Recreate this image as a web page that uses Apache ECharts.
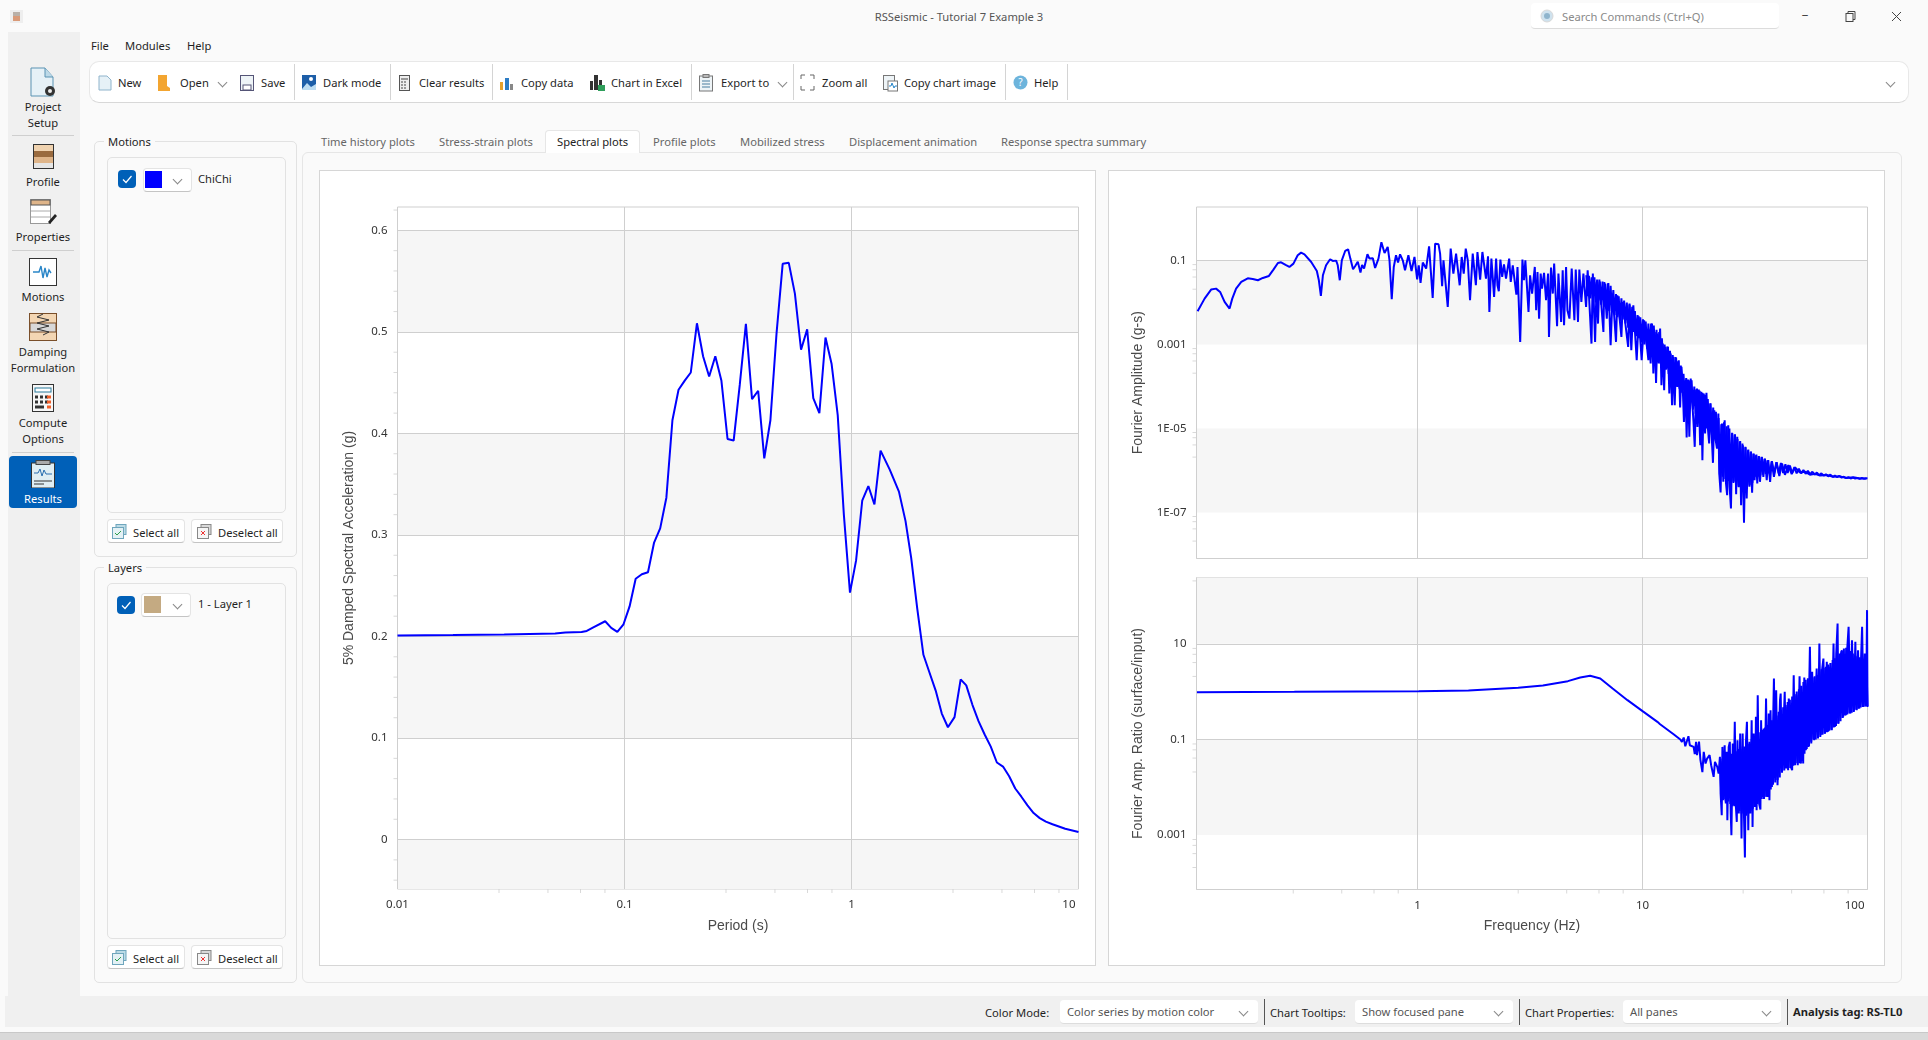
<!DOCTYPE html>
<html>
<head>
<meta charset="utf-8">
<title>RSSeismic - Tutorial 7 Example 3</title>
<script src="https://cdn.jsdelivr.net/npm/echarts@6/dist/echarts.min.js"></script>
<style>
  html, body { margin: 0; width: 1928px; height: 1040px; overflow: hidden; background: #fafafa; }
  body { font-family: "Noto Sans", sans-serif; font-size: 11.2px; color: #1f1f1f; }
  #chart { position: absolute; left: 0; top: 0; width: 1928px; height: 1040px; z-index: 5; }
  .t { position: absolute; white-space: nowrap; transform: translateY(calc(-50% - 1px)); }
  .c { text-align: center; transform: translate(-50%, calc(-50% - 1px)); }
  .b { position: absolute; box-sizing: border-box; }
  .btn { background: #fff; border: 1px solid #e4e4e4; border-bottom-color: #c4c4c4; border-radius: 4px; }
  .grp { border: 1px solid #e2e2e2; border-radius: 5px; }
  .chev { position: absolute; width: 6px; height: 6px; border-right: 1px solid #888; border-bottom: 1px solid #888; transform: rotate(45deg); }
</style>
</head>
<body>
<div id="chrome"></div>
<div id="chart"></div>
<script>
// ---- response spectrum, left pane
const saPeriods = [0.01,0.01758,0.0295,0.0495,0.0549,0.0647,0.0682,0.0729,0.0822,0.0874,0.093,0.099,0.1053,0.112,0.1192,0.1269,0.135,0.1436,0.1529,0.1626,0.173,0.1842,0.1959,0.2085,0.2219,0.236,0.2512,0.2673,0.2844,0.3026,0.322,0.3426,0.3646,0.388,0.4128,0.4393,0.4675,0.4975,0.5293,0.5632,0.5994,0.6378,0.6786,0.7219,0.7682,0.8174,0.8696,0.9254,0.9846,1.0477,1.1149,1.1864,1.262,1.343,1.474,1.618,1.73,1.832,1.949,2.074,2.207,2.349,2.499,2.659,2.844,3.026,3.203,3.409,3.627,3.86,4.107,4.37,4.65,4.949,5.264,5.602,5.96,6.342,6.749,7.181,7.68,8.74,10];
const saValues = [0.201,0.2015,0.202,0.203,0.204,0.2045,0.2055,0.209,0.215,0.2085,0.2045,0.212,0.2296,0.2568,0.2613,0.2633,0.2925,0.3065,0.3367,0.413,0.443,0.452,0.46,0.5085,0.476,0.456,0.476,0.4518,0.3945,0.393,0.448,0.508,0.4337,0.442,0.3754,0.413,0.4985,0.567,0.568,0.5377,0.4824,0.5025,0.4347,0.42,0.4945,0.4683,0.418,0.32,0.2432,0.2749,0.3337,0.3482,0.33,0.383,0.3643,0.3427,0.3136,0.2774,0.2271,0.182,0.1643,0.1467,0.1241,0.1106,0.1206,0.1578,0.1518,0.1327,0.1166,0.1035,0.0915,0.0759,0.0719,0.0623,0.0503,0.0422,0.0337,0.0261,0.0211,0.0176,0.0151,0.0106,0.0075];

// ---- Fourier amplitude, top right pane (log10 of Hz and of g-s)
const ampFreqExp = [-0.978,-0.947,-0.918,-0.896,-0.878,-0.858,-0.836,-0.824,-0.807,-0.784,-0.755,-0.733,-0.71,-0.688,-0.661,-0.641,-0.621,-0.607,-0.587,-0.57,-0.552,-0.533,-0.518,-0.503,-0.473,-0.448,-0.439,-0.43,-0.421,-0.407,-0.389,-0.377,-0.362,-0.355,-0.346,-0.337,-0.322,-0.309,-0.299,-0.287,-0.278,-0.266,-0.254,-0.247,-0.238,-0.223,-0.214,-0.199,-0.189,-0.174,-0.161,-0.147,-0.133,-0.125,-0.115,-0.106,-0.096,-0.087,-0.078,-0.066,-0.056,-0.041,-0.027,-0.014,-0.002,0.005,0.013,0.023,0.038,
0.051,0.059,0.067,0.078,0.093,0.1,0.109,0.115,0.122,0.134,0.147,0.159,0.171,0.177,0.187,0.196,0.205,0.214,0.223,0.233,0.245,0.259,0.266,0.278,0.288,0.296,0.304,0.313,0.319,0.328,0.34,0.349,0.355,0.361,0.368,0.376,0.384,0.393,0.407,0.414,0.423,0.439,0.444,0.456,0.466,0.473,0.479,0.493,0.5,0.509,0.521,0.527,0.533,0.54,0.547,0.553,0.562,0.571,0.58,0.584,0.593,0.601,0.607,0.62,0.626,0.638,0.645,0.651,0.66,0.666,0.675,0.685,0.697,0.703,0.713,0.719,0.728,0.737,0.749,0.756,0.773,0.779,0.789,0.796,0.802,0.808,0.826,0.83,0.841,0.848,0.858,0.867,0.882,0.888,0.906,0.912,0.936,0.942,0.95,0.959,0.974,0.983,0.996,1.007,1.026,
1.03,1.036,1.042,1.048,1.054,1.06,1.066,1.072,1.078,1.084,1.09,1.096,1.101,1.107,1.113,1.119,1.125,1.131,1.137,1.143,1.149,1.155,1.161,1.167,1.173,1.178,1.184,1.19,1.196,1.202,1.208,1.214,1.22,1.226,1.232,1.238,1.244,1.25,1.256,1.261,1.266,1.272,1.278,1.284,1.29,1.296,1.301,1.307,1.313,1.319,1.325,1.331,1.337,1.341,1.347,1.353,1.359,1.365,1.371,1.376,1.381,1.387,1.393,1.399,1.405,1.411,1.416,1.421,1.427,1.433,1.438,1.444,1.451,1.457,1.463,1.469,1.475,1.481,1.487,1.493,1.498,1.504,1.51,1.516,1.522,1.53,1.537,1.544,1.552,1.559,1.567,1.574,1.584,1.596,1.608,1.62,1.633,1.648,1.663,1.678,1.7,1.722,1.744,1.767,1.789,1.818,1.848,1.878,1.907,1.937,1.967,2];
const ampExp = [-2.207,-1.906,-1.691,-1.668,-1.747,-1.985,-2.144,-1.906,-1.668,-1.509,-1.421,-1.437,-1.469,-1.414,-1.366,-1.215,-1.056,-1.041,-1.104,-1.152,-1.072,-0.874,-0.81,-0.85,-1.033,-1.247,-1.469,-1.842,-1.35,-1.112,-0.969,-1.009,-1.001,-1.112,-1.469,-0.993,-0.771,-0.731,-0.953,-1.207,-1.136,-1.025,-1.287,-1.104,-1.191,-0.85,-0.953,-0.945,-1.175,-0.953,-0.564,-0.818,-0.675,-0.993,-1.921,-1.152,-0.874,-1.048,-0.85,-0.993,-1.231,-0.874,-1.247,-0.914,-1.445,-1.112,-1.533,-1.048,-1.191,
-0.66,-0.675,-1.89,-0.596,-0.612,-0.834,-1.612,-0.993,-0.953,-2.104,-0.715,-1.31,-0.834,-0.834,-1.588,-0.914,-1.31,-0.715,-0.993,-1.945,-0.834,-1.588,-0.795,-1.453,-0.795,-0.795,-1.429,-0.898,-2.223,-0.953,-1.866,-0.953,-1.588,-1.731,-0.977,-1.39,-1.088,-1.429,-0.953,-1.509,-1.112,-1.81,-1.152,-2.937,-0.977,-1.469,-0.993,-2.223,-1.35,-1.786,-1.152,-2.183,-1.271,-2.382,-1.31,-1.668,-1.294,-1.945,-1.31,-2.818,-1.167,-1.786,-1.072,-2.564,-1.31,-2.461,-1.231,-2.54,-1.152,-2.183,-2.382,-1.191,-2.421,-1.215,-2.461,-1.215,-1.985,-1.31,-2.104,-1.231,-2.977,-1.31,-2.937,-1.509,-2.501,-1.453,-2.699,-1.509,-2.382,-1.533,-3.017,-1.786,-2.937,-1.826,-2.818,-1.985,-3.056,-2.025,-3.136,-2.064,-3.374,-2.326,-3.374,-2.421,-3.374,
-2.643,-3.453,-2.501,-3.691,-2.699,-3.913,-2.739,-3.453,-2.62,-3.969,-2.977,-4.088,-3.056,-3.572,-3.056,-4.167,-3.215,-4.445,-3.294,-4.445,-3.31,-4.008,-3.374,-4.501,-3.532,-3.929,-4.842,-3.85,-5.215,-3.834,-5.199,-3.81,-3.786,-4.802,-5.437,-4.072,-4.961,-4.072,-5.397,-4.127,-5.754,-4.167,-5.12,-4.151,-4.961,-5.358,-4.405,-5.12,-5.818,-4.564,-5.278,-5.477,-4.643,-6.072,-6.524,-4.882,-6.27,-4.802,-6.31,-6.588,-4.921,-6.389,-6.905,-5.12,-6.27,-5.135,-6.564,-5.199,-6.389,-5.318,-6.826,-5.358,-7.247,-5.437,-6.667,-5.516,-6.389,-5.556,-6.532,-5.596,-6.231,-5.636,-6.31,-5.659,-6.27,-5.675,-6.151,-5.715,-6.231,-5.755,-6.27,-5.786,-6.151,-5.802,-6.135,-5.834,-6.104,-5.874,-6.088,-5.929,-6.05,-6.03,-6.1,-6.08,-6.12,-6.11,-6.15,-6.14,-6.18,-6.16,-6.19,-6.185];

// the solid core of the same spectrum where its lines merge
const ampCoreFreqExp = [0.75,0.756,0.762,0.768,0.774,0.78,0.786,0.792,0.798,0.804,0.81,0.816,0.822,0.828,0.834,0.84,0.846,0.852,0.858,0.864,0.87,0.876,0.882,0.888,0.894,0.9,0.906,0.912,0.918,0.924,0.93,0.936,0.942,0.948,0.954,0.96,0.966,0.972,0.978,0.984,0.99,0.996,1.002,1.008,1.014,1.02,1.026,1.032,1.038,1.044,1.05,1.056,1.062,1.068,1.074,1.08,1.086,1.092,1.098,1.104,1.11,1.116,1.122,1.128,1.134,1.14,1.146,1.152,1.158,1.164,1.17,1.176,1.182,1.188,1.194,1.2,1.206,1.212,1.218,1.224,1.23,1.236,1.242,1.248,1.254,1.26,1.266,1.272,1.278,1.284,1.29,1.296,1.302,1.308,1.314,1.32,1.326,1.332,1.338,1.344,1.35,1.356,1.362,1.368,1.374,1.38,1.386,1.392,1.398,1.404,1.41,1.416,1.422,1.428,1.434,1.44,1.446,1.452,1.458,1.464,1.47,1.476,1.482,1.488,1.494,1.5,1.506,1.512,1.518,1.524,1.53,1.536,1.542,1.548,1.555,1.565,1.575,1.585,1.595,1.605,1.615,1.625,1.635,1.645,1.655,1.665,1.675,1.685,1.695,1.705,1.715,1.725,1.735,1.745,1.755,1.765,1.775,1.785,1.795,1.805,1.815,1.825,1.835,1.845,1.855,1.865,1.875,1.885,1.895,1.905,1.915,1.925,1.935,1.945,1.955,1.965,1.975,1.985,1.995];
const ampCoreExp = [-1.35,-1.85,-1.36,-1.9,-1.4,-1.95,-1.4,-2,-1.45,-1.95,-1.5,-2.05,-1.5,-2.1,-1.55,-2.15,-1.55,-2.2,-1.6,-2.2,-1.7,-2.3,-1.8,-2.35,-1.85,-2.45,-1.9,-2.4,-1.95,-2.5,-2,-2.6,-2.05,-2.65,-2.1,-2.7,-2.2,-2.8,-2.3,-2.85,-2.35,-2.95,-2.4,-3,-2.45,-3.1,-2.5,-3.15,-2.5,-3.25,-2.55,-3.3,-2.65,-3.35,-2.7,-3.45,-2.85,-3.55,-3,-3.6,-3.05,-3.7,-3.15,-3.8,-3.25,-3.9,-3.3,-4,-3.4,-4.05,-3.5,-4.15,-3.7,-4.25,-3.8,-4.3,-3.85,-4.4,-3.85,-4.55,-4,-4.65,-4.05,-4.85,-4.1,-4.9,-4.15,-4.95,-4.2,-5,-4.3,-5.1,-4.4,-5.15,-4.5,-5.2,-4.6,-5.3,-4.75,-6.1,-4.9,-6.15,-4.85,-6.2,-4.95,-6.25,-5,-6.3,-5.1,-6.3,-5.15,-6.35,-5.25,-6.4,-5.3,-6.45,-5.4,-6.45,-5.45,-6.4,-5.5,-6.35,-5.55,-6.3,-5.6,-6.15,-5.62,-6.15,-5.66,-6.12,-5.68,-6.1,-5.72,-6.08,-5.76,-6.08,-5.78,-6.07,-5.8,-6.07,-5.82,-6.06,-5.85,-6.06,-5.88,-6.06,-5.92,-6.07,-5.96,-6.07,-5.99,-6.08,-6.01,-6.09,-6.03,-6.1,-6.05,-6.11,-6.07,-6.12,-6.09,-6.14,-6.1,-6.15,-6.12,-6.16,-6.13,-6.17,-6.15,-6.18,-6.16,-6.19,-6.17,-6.19,-6.18,-6.2,-6.18,-6.2,-6.19];

// ---- Fourier amplitude ratio, bottom right pane (log10 again)
const ratioFreqExp = [-0.981,-0.548,0.005,0.226,0.447,0.557,0.668,0.723,0.767,0.812,0.867,0.933,1,1.066,1.078,1.138,1.168,1.175,1.183,1.19,1.204,1.21,1.227,1.232,1.238,1.242,1.251,1.257,1.266,1.272,1.28,1.287,1.298,1.305,1.316,1.322,1.332,1.338,
1.344,1.347,1.352,1.355,1.359,1.365,1.37,1.374,1.377,1.383,1.388,1.392,1.395,1.401,1.404,1.41,1.415,1.419,1.422,1.428,1.434,1.44,1.445,1.451,1.455,1.46,1.464,1.47,1.475,1.479,1.485,1.489,1.494,1.5,1.504,1.507,1.512,1.518,1.524,1.527,1.533,1.539,1.542,1.549,1.555,1.561,1.564,1.569,1.575,1.579,1.584,1.59,1.594,1.6,1.606,1.611,1.614,1.62,1.624,1.632,1.638,1.644,1.647,1.65,1.659,1.665,1.672,1.678,1.684,1.69,1.698,1.704,1.71,1.714,1.719,1.726,1.734,1.736,1.744,1.75,1.754,1.763,1.774,1.78,1.786,1.792,1.798,1.804,1.811,1.819,1.825,1.834,1.841,1.849,1.855,1.861,1.867,1.871,1.879,1.886,1.892,1.898,1.904,1.91,1.916,1.924,1.931,1.939,1.946,1.952,1.958,1.964,1.976,1.982,1.988,1.994,1.998,2];
const ratioExp = [-0.0115,-0.005,0.0095,0.023,0.079,0.128,0.219,0.296,0.331,0.275,0.065,-0.179,-0.409,-0.633,-0.682,-0.891,-1.003,-1.052,-0.961,-1.143,-0.933,-1.122,-1.157,-1.31,-1.052,-1.331,-1.045,-1.422,-1.687,-1.261,-1.506,-1.401,-1.331,-1.541,-1.785,-1.471,-1.575,-1.715,
-1.366,-2.134,-2.588,-1.157,-2.273,-1.122,-2.343,-1.261,-2.692,-1.157,-1.052,-2.553,-3.006,-1.087,-2.378,-0.633,-2.413,-2.727,-1.017,-2.553,-0.877,-3.076,-0.877,-2.623,-3.474,-1.017,-0.633,-2.902,-1.087,-2.553,-0.598,-2.832,-0.877,-2.413,-0.528,-2.483,-0.075,-2.343,-2.469,-0.598,-2.204,-0.773,-2.204,-0.144,-2.204,-0.458,-2.273,-0.389,-1.994,-1.959,0.275,-1.785,0.03,-1.959,-1.959,-0.179,-0.04,-1.68,-1.645,-0.005,-1.61,-0.319,-1.645,-0.144,-1.575,-1.645,0.344,-1.54,-0.075,-1.54,0.323,-1.506,-0.109,-1.506,0.295,-1.226,0.17,-1.157,0.938,-1.087,0.414,-1.017,0.484,-0.982,1.008,-0.912,0.449,0.693,-0.877,0.624,-0.842,0.519,-0.808,1.008,-0.738,0.798,1.426,-0.668,0.728,0.868,-0.528,0.728,-0.493,0.903,1.357,-0.458,1.077,-0.424,1.042,-0.389,0.868,-0.354,1.357,-0.319,0.798,-0.305,1.706,-0.32];
const ratioCoreFreqExp = [1.345,1.35,1.355,1.36,1.365,1.37,1.375,1.38,1.385,1.39,1.395,1.4,1.405,1.41,1.415,1.42,1.425,1.43,1.435,1.44,1.445,1.45,1.455,1.46,1.465,1.47,1.475,1.48,1.485,1.49,1.495,1.5,1.505,1.51,1.515,1.52,1.525,1.53,1.535,1.54,1.545,1.55,1.555,1.56,1.565,1.57,1.575,1.58,1.585,1.59,1.595,1.6,1.605,1.61,1.615,1.62,1.625,1.63,1.635,1.64,1.645,1.65,1.655,1.66,1.665,1.67,1.675,1.68,1.685,1.69,1.695,1.7,1.705,1.71,1.715,1.72,1.725,1.73,1.735,1.74,1.745,1.75,1.755,1.76,1.765,1.77,1.775,1.78,1.785,1.79,1.795,1.8,1.805,1.81,1.815,1.82,1.825,1.83,1.835,1.84,1.845,1.85,1.855,1.86,1.865,1.87,1.875,1.88,1.885,1.89,1.895,1.9,1.905,1.91,1.915,1.92,1.925,1.93,1.935,1.94,1.945,1.95,1.955,1.96,1.965,1.97,1.975,1.98,1.985,1.99,1.995,2];
const ratioCoreExp = [-1.45,-2.2,-1.4,-2.25,-1.35,-2.3,-1.35,-2.3,-1.3,-2.35,-1.3,-2.4,-1.25,-2.4,-1.25,-2.45,-1.2,-2.5,-1.2,-2.55,-1.15,-2.55,-1.15,-2.6,-1.1,-2.55,-1.05,-2.5,-1,-2.45,-0.95,-2.4,-0.9,-2.35,-0.85,-2.3,-0.85,-2.25,-0.8,-2.25,-0.75,-2.2,-0.7,-2.1,-0.65,-2.05,-0.6,-1.95,-0.6,-1.9,-0.5,-1.85,-0.42,-1.8,-0.38,-1.7,-0.33,-1.65,-0.28,-1.6,-0.22,-1.6,-0.17,-1.55,-0.1,-1.55,-0.05,-1.5,0,-1.5,0.05,-1.5,0.12,-1.45,0.2,-1.3,0.25,-1.2,0.28,-1.15,0.28,-1.05,0.3,-1,0.32,-1,0.35,-0.95,0.42,-0.95,0.47,-0.9,0.5,-0.88,0.52,-0.85,0.57,-0.82,0.6,-0.8,0.66,-0.75,0.7,-0.72,0.75,-0.67,0.8,-0.62,0.85,-0.55,0.9,-0.5,0.92,-0.48,0.88,-0.46,0.85,-0.44,0.8,-0.4,0.76,-0.38,0.74,-0.36,0.72,-0.33,0.7,-0.32,0.68,-0.31,0.66,-0.3];

// ---- tick labels and minor ticks
const saTicks = [0,0.1,0.2,0.3,0.4,0.5,0.6];
const saTickLabels = ['0','0.1','0.2','0.3','0.4','0.5','0.6'];
const saMinor = [-0.04,-0.02,0.02,0.04,0.06,0.08,0.12,0.14,0.16,0.18,0.22,0.24,0.26,0.28,0.32,0.34,0.36,0.38,0.42,0.44,0.46,0.48,0.52,0.54,0.56,0.58,0.62];
const periodTicks = [0.01,0.1,1,10];
const periodTickLabels = ['0.01','0.1','1','10'];
const freqTicks = [1,10,100];
const freqTickLabels = ['1','10','100'];
const ampTicks = [0.1,0.001,1e-5,1e-7];
const ampTickLabels = ['0.1','0.001','1E-05','1E-07'];
const ratioTicks = [10,0.1,0.001];
const ratioTickLabels = ['10','0.1','0.001'];
const periodMinor = [0.028,0.046,0.064,0.082,0.28,0.46,0.64,0.82,2.8,4.6,6.4,8.2];
const freqMinor = [0.28,0.46,0.64,0.82,2.8,4.6,6.4,8.2,28,46,64,82];
const ampMinor = [0.0208,0.0406,0.0604,0.0802,2.08e-4,4.06e-4,6.04e-4,8.02e-4,2.08e-6,4.06e-6,6.04e-6,8.02e-6,2.08e-8,4.06e-8,6.04e-8,8.02e-8];
const ratioMinor = [208,2.08,4.06,6.04,8.02,0.0208,0.0406,0.0604,0.0802,2.08e-4,4.06e-4,6.04e-4,8.02e-4];

// axis limits
const periodRange = [0.01, 10];
const freqRange = [0.104, 100];
const saRange = [-0.0487, 0.623];
const ampRange = [8e-9, 1.89];
const ratioRange = [7.2e-5, 245];

const BLUE = '#0000ff', GRID = '#cfcfcf', BAND = '#f6f6f6', LABEL = '#333', TITLE = '#4a4a4a';

// ---- application chrome around the charts
const chrome = document.getElementById('chrome');
function box(x, y, w, h, css) {
  const d = document.createElement('div');
  d.className = 'b';
  d.style.cssText = `left:${x}px;top:${y}px;width:${w}px;height:${h}px;${css || ''}`;
  chrome.append(d);
  return d;
}
function txt(x, y, s, css, cls) {
  const d = document.createElement('div');
  d.className = cls || 't';
  d.style.cssText = `left:${x}px;top:${y}px;${css || ''}`;
  d.textContent = s;
  chrome.append(d);
}
function chev(x, y) {
  const d = document.createElement('div');
  d.className = 'chev';
  d.style.left = x + 'px';
  d.style.top = y + 'px';
  chrome.append(d);
}
function svg(x, y, w, h, inner) {
  const d = document.createElement('div');
  d.style.cssText = `position:absolute;left:${x}px;top:${y}px;width:${w}px;height:${h}px`;
  d.innerHTML = `<svg width="${w}" height="${h}" viewBox="0 0 ${w} ${h}" xmlns="http://www.w3.org/2000/svg">${inner}</svg>`;
  chrome.append(d);
}
function check(x, y) {
  box(x, y, 18, 18, 'background:#0060b8;border-radius:4px');
  svg(x, y, 18, 18, '<path d="M5 9.5l3 3 5.5-6.5" fill="none" stroke="#fff" stroke-width="1.2"/>');
}
function selectButtons(y) {
  box(107, y, 78, 24, '').className = 'b btn';
  svg(112, y + 5, 15, 15, '<rect x="4" y="0.5" width="10" height="10" fill="#bcdbe6" stroke="#6fa6bd"/><rect x="0.5" y="3.5" width="11" height="11" fill="#e4f1f5" stroke="#6fa6bd"/><path d="M3 9l2 2 4-4" fill="none" stroke="#2a9d4a"/>');
  txt(133, y + 14, 'Select all');
  box(191, y, 92, 24, '').className = 'b btn';
  svg(197, y + 5, 15, 15, '<rect x="4" y="0.5" width="10" height="10" fill="#d8d8d8" stroke="#888"/><rect x="0.5" y="3.5" width="11" height="11" fill="#f5f5f5" stroke="#888"/><path d="M4 7l4 4m0-4l-4 4" stroke="#e33"/>');
  txt(218, y + 14, 'Deselect all');
}

// title bar
svg(10, 10, 13, 13, '<rect width="13" height="13" fill="#eee"/><rect x="3" y="2" width="7" height="4" fill="#b9b0a8"/><rect x="3" y="6" width="7" height="5" fill="#d99a78"/>');
txt(959, 17, 'RSSeismic - Tutorial 7 Example 3', 'color:#555', 't c');
box(1531, 3, 248, 26, 'background:#fff;border-radius:4px;border-bottom:1px solid #dcdcdc');
svg(1540, 9, 14, 14, '<circle cx="7" cy="7" r="6" fill="#cfe2ee" stroke="#d8d8d8"/><circle cx="7" cy="7" r="3" fill="#8fb4cc"/>');
txt(1562, 17, 'Search Commands (Ctrl+Q)', 'color:#8a8a8a');
txt(1805, 15, '–', 'color:#444;font-size:13px', 't c');
svg(1845, 10, 11, 11, '<rect x="1" y="2.5" width="7" height="8" fill="none" stroke="#444"/><path d="M3 2.5v-2h7v8h-2" fill="none" stroke="#444"/>');
svg(1891, 10, 11, 11, '<path d="M1 1l9 9m0-9l-9 9" stroke="#444"/>');

// rail
box(8, 32, 72, 964, 'background:#f0f0f0');
box(12, 135, 62, 1, 'background:#cfcfcf');
box(12, 250, 62, 1, 'background:#cfcfcf');
box(12, 452, 62, 1, 'background:#cfcfcf');
box(9, 456, 68, 52, 'background:#0060b8;border-radius:4px');
svg(29, 67, 30, 32, '<path d="M2 1h14l8 9v19H2z" fill="#e6f1f7" stroke="#5b93b3"/><path d="M16 1v9h8" fill="#bcd9e8" stroke="#5b93b3"/><circle cx="21" cy="24" r="5" fill="#333"/><circle cx="21" cy="24" r="2" fill="#eee"/>');
txt(43, 107, 'Project', '', 't c'); txt(43, 123, 'Setup', '', 't c');
svg(33, 144, 21, 25, '<rect x="0.5" y="0.5" width="20" height="24" fill="#e6e6e6" stroke="#333"/><rect x="1" y="1" width="19" height="6" fill="#f0d3b0"/><rect x="1" y="7" width="19" height="6" fill="#9a6b3f"/><rect x="1" y="13" width="19" height="6" fill="#dfb58a"/>');
txt(43, 182, 'Profile', '', 't c');
svg(30, 199, 29, 26, '<rect x="0.5" y="0.5" width="20" height="24" fill="#fff" stroke="#999"/><rect x="1" y="1" width="19" height="5" fill="#dfb58a" stroke="#555"/><path d="M1 12h19M1 18h19" stroke="#aaa"/><path d="M18 23l7-8 2 2-7 8z" fill="#222"/>');
txt(43, 237, 'Properties', '', 't c');
svg(29, 258, 28, 28, '<rect x="0.5" y="0.5" width="27" height="27" fill="#fff" stroke="#333"/><path d="M4 14h6l2-6 2 12 2-10 2 9 2-7 2 3" fill="none" stroke="#2a86c8" stroke-width="1.4"/>');
txt(43, 297, 'Motions', '', 't c');
svg(29, 313, 28, 28, '<rect x="0.5" y="0.5" width="27" height="27" fill="#f3d6b3" stroke="#7a4f2a"/><rect x="1" y="10" width="26" height="9" fill="#d8d8d8" stroke="#7a4f2a"/><path d="M14 1l-6 3 12 3-12 3 12 3-12 3 12 3-6 3" fill="none" stroke="#333"/>');
txt(43, 352, 'Damping', '', 't c'); txt(43, 368, 'Formulation', '', 't c');
svg(32, 384, 22, 28, '<rect x="0.5" y="0.5" width="21" height="27" fill="#f7f7f7" stroke="#333"/><rect x="3" y="4" width="16" height="4" fill="#fff" stroke="#287a9c"/><path d="M3 13h3m2 0h3m2 0h3M3 18h3m2 0h3m2 0h3" stroke="#333" stroke-width="3"/><path d="M15 13h4M15 18h4M15 23h4" stroke="#f2602a" stroke-width="3"/><path d="M3 23h9" stroke="#333" stroke-width="3"/>');
txt(43, 423, 'Compute', '', 't c'); txt(43, 439, 'Options', '', 't c');
svg(31, 460, 24, 28, '<rect x="0.5" y="3" width="23" height="25" fill="#e0eef3" stroke="#333"/><rect x="5" y="0.5" width="14" height="4" fill="#aaa" stroke="#444"/><path d="M3 13h4l2-4 2 7 2-6 2 4h6" fill="none" stroke="#2a6fb0"/><path d="M3 21h18M3 24h10" stroke="#333"/>');
txt(43, 499, 'Results', 'color:#fff', 't c');

// menu and toolbar
txt(91, 46, 'File'); txt(125, 46, 'Modules'); txt(187, 46, 'Help');
box(89, 61, 1820, 42, 'background:#fff;border-radius:10px;border:1px solid #e8e8e8;border-bottom-color:#d8d8d8');
[294, 390, 492, 691, 793, 1005, 1067].forEach(x => box(x, 64, 1, 36, 'background:#d4d4d4'));
svg(98, 75, 14, 16, '<path d="M1 1h8l4 4v10H1z" fill="#e6f1f7" stroke="#8fb4cc"/>');
txt(118, 83, 'New');
svg(157, 74, 14, 18, '<path d="M1 1h9v11l3 2v3H1z" fill="#f3a530"/>');
txt(180, 83, 'Open'); chev(219, 79);
svg(240, 75, 14, 16, '<rect x="0.5" y="0.5" width="13" height="15" fill="#eef4f7" stroke="#557"/><rect x="3" y="10" width="8" height="5" fill="#fff" stroke="#557"/>');
txt(261, 83, 'Save');
svg(302, 75, 14, 15, '<rect width="14" height="15" fill="#1d5ea8"/><circle cx="9" cy="4" r="2" fill="#fff"/><path d="M0 14l5-6 4 4 5-3v6H0z" fill="#bcdcf2"/>');
txt(323, 83, 'Dark mode');
svg(399, 75, 12, 16, '<rect x="0.5" y="0.5" width="10" height="15" fill="#eee" stroke="#555"/><path d="M2 4h7M2 7h2m1 0h2M2 10h2m1 0h2M2 13h2m1 0h2" stroke="#444"/>');
txt(419, 83, 'Clear results');
svg(500, 75, 14, 16, '<rect x="0" y="7" width="3" height="8" fill="#e6a12b"/><rect x="5" y="3" width="4" height="12" fill="#2d7cc4"/><rect x="10" y="9" width="3" height="6" fill="#888"/>');
txt(521, 83, 'Copy data');
svg(590, 74, 15, 18, '<rect x="0" y="7" width="3" height="9" fill="#333"/><rect x="4" y="1" width="4" height="15" fill="#333"/><rect x="9" y="6" width="3" height="10" fill="#333"/><rect x="8" y="11" width="7" height="6" fill="#2f9e5b"/>');
txt(611, 83, 'Chart in Excel');
svg(699, 74, 14, 18, '<rect x="0.5" y="2" width="13" height="15" fill="#eef4f7" stroke="#777"/><rect x="4" y="0.5" width="6" height="3" fill="#bbb" stroke="#777"/><path d="M3 7h8M3 10h8M3 13h8" stroke="#4a7fa0"/>');
txt(721, 83, 'Export to'); chev(779, 79);
svg(800, 74, 15, 17, '<path d="M1 5V1h4M10 1h4v4M1 12v4h4M10 16h4v-4" fill="none" stroke="#666"/>');
txt(822, 83, 'Zoom all');
svg(883, 75, 15, 17, '<rect x="0.5" y="0.5" width="11" height="14" fill="#eef4f7" stroke="#777"/><rect x="5" y="6" width="9.5" height="10" fill="#fff" stroke="#777"/><path d="M6 11h2l1-3 2 5 1-2h2" fill="none" stroke="#2a86c8"/>');
txt(904, 83, 'Copy chart image');
svg(1013, 75, 15, 15, '<circle cx="7.5" cy="7.5" r="7" fill="#6db4dc"/><text x="7.5" y="11" font-size="10" text-anchor="middle" fill="#fff">?</text>');
txt(1034, 83, 'Help');
chev(1887, 79);

// left side groups
box(94, 141, 203, 416, '').className = 'b grp';
txt(104, 142, 'Motions', 'background:#fafafa;padding:0 4px');
box(107, 157, 179, 356, '').className = 'b grp';
check(118, 170);
box(143, 168, 49, 24, '').className = 'b btn';
box(145, 171, 17, 17, 'background:#0000ff');
chev(174, 176);
txt(198, 179, 'ChiChi');
selectButtons(519);
box(94, 567, 203, 416, '').className = 'b grp';
txt(104, 568, 'Layers', 'background:#fafafa;padding:0 4px');
box(107, 583, 179, 356, '').className = 'b grp';
check(117, 596);
box(141, 593, 50, 24, '').className = 'b btn';
box(144, 596, 17, 17, 'background:#c4aa82');
chev(174, 601);
txt(198, 604, '1 - Layer 1');
selectButtons(945);

// tabs and panes
box(302, 152, 1600, 831, 'border:1px solid #e6e6e6;border-radius:6px');
box(545, 130, 95, 23, 'background:#fff;border:1px solid #e6e6e6;border-bottom:none;border-radius:4px 4px 0 0');
txt(321, 142, 'Time history plots', 'color:#666');
txt(439, 142, 'Stress-strain plots', 'color:#666');
txt(557, 142, 'Spectral plots', 'color:#222');
txt(653, 142, 'Profile plots', 'color:#666');
txt(740, 142, 'Mobilized stress', 'color:#666');
txt(849, 142, 'Displacement animation', 'color:#666');
txt(1001, 142, 'Response spectra summary', 'color:#666');
box(319, 170, 777, 796, 'background:#fff;border:1px solid #d6d6d6');
box(1108, 170, 777, 796, 'background:#fff;border:1px solid #d6d6d6');

// bottom bar
box(5, 996, 1923, 31, 'background:#f0f0f0');
box(0, 1032, 1928, 8, 'background:#d9d9d9;border-top:1px solid #c8c8c8');
txt(985, 1013, 'Color Mode:');
box(1060, 1000, 198, 24, 'background:#fff;border-radius:4px;border-bottom:1px solid #ddd');
txt(1067, 1012, 'Color series by motion color', 'color:#555'); chev(1240, 1008);
box(1264, 999, 1, 26, 'background:#555');
txt(1270, 1013, 'Chart Tooltips:');
box(1355, 1000, 158, 24, 'background:#fff;border-radius:4px;border-bottom:1px solid #ddd');
txt(1362, 1012, 'Show focused pane', 'color:#555'); chev(1495, 1008);
box(1519, 999, 1, 26, 'background:#555');
txt(1525, 1013, 'Chart Properties:');
box(1623, 1000, 158, 24, 'background:#fff;border-radius:4px;border-bottom:1px solid #ddd');
txt(1630, 1012, 'All panes', 'color:#555'); chev(1763, 1008);
box(1787, 999, 1, 26, 'background:#555');
txt(1793, 1012, 'Analysis tag: RS-TL0', 'font-weight:700');

// ---- charts
function logLabel(ticks, labels, padLast) {
  return v => {
    const i = ticks.findIndex(t => Math.abs(v / t - 1) < 1e-6);
    if (i < 0) return '';
    return padLast && i === ticks.length - 1 ? labels[i] + '\u00a0' : labels[i];
  };
}
function linLabel(ticks, labels) {
  return v => {
    const i = ticks.findIndex(t => Math.abs(v - t) < 1e-6);
    return i < 0 ? '' : labels[i];
  };
}
function baseAxis(gridIndex, type, range, formatter) {
  return {
    type, gridIndex, min: range[0], max: range[1],
    z: 2, // keep the vertical grid lines above the shaded bands
    axisLine: { show: false },
    axisTick: { show: false },
    axisLabel: { color: LABEL, fontFamily: 'Noto Sans', fontSize: 11.5, formatter, margin: 10, hideOverlap: false },
    splitLine: { show: true, lineStyle: { color: GRID, width: 1 } }
  };
}
function named(axis, name, gap) {
  axis.name = name;
  axis.nameLocation = 'middle';
  axis.nameGap = gap;
  axis.nameTextStyle = { color: TITLE, fontFamily: 'Liberation Sans', fontSize: 14 };
  return axis;
}
function curve(name, x, y, i) {
  return {
    name, type: 'line', xAxisIndex: i, yAxisIndex: i,
    data: x.map((v, k) => [v, y[k]]),
    showSymbol: false, symbol: 'none', sampling: false,
    lineStyle: { color: BLUE, width: 2 }, z: 3, silent: true
  };
}
function ticksOn(name, data, i, horizontal) {
  return {
    name, type: 'scatter', xAxisIndex: i, yAxisIndex: i, data, silent: true, clip: false,
    symbol: 'rect',
    symbolSize: horizontal ? [1, 4] : [4, 1],
    symbolOffset: horizontal ? [0, 2] : [-2, 0],
    itemStyle: { color: GRID }, z: 2
  };
}
// shaded bands and horizontal grid lines, the axis ticks count from min so they can't do it
function bands(values, from, to) {
  return {
    markArea: { silent: true, z: 1, itemStyle: { color: BAND }, data: from.map((v, k) => [{ yAxis: v }, { yAxis: to[k] }]) },
    markLine: { silent: true, z: 1, symbol: 'none', animation: false, label: { show: false }, lineStyle: { color: GRID, width: 1, type: 'solid' }, data: values.map(v => ({ yAxis: v })) }
  };
}

const exp10 = a => a.map(v => Math.pow(10, v));

const saSeries = curve('5% damped Sa', saPeriods, saValues, 0);
Object.assign(saSeries, bands(saTicks, [saRange[0], 0.1, 0.3, 0.5], [0, 0.2, 0.4, 0.6]));
const ampSeries = curve('Fourier amplitude', exp10(ampFreqExp), exp10(ampExp), 1);
Object.assign(ampSeries, bands(ampTicks, [0.1, 1e-5], [0.001, 1e-7]));
const ratioSeries = curve('Amplitude ratio', exp10(ratioFreqExp), exp10(ratioExp), 2);
Object.assign(ratioSeries, bands(ratioTicks, [ratioRange[1], 0.1], [10, 0.001]));

const saY = named(baseAxis(0, 'value', saRange, linLabel(saTicks, saTickLabels)), '5% Damped Spectral Acceleration (g)', 41);
saY.splitLine = { show: false };
saY.axisLabel.customValues = saTicks;
const ampY = named(baseAxis(1, 'log', ampRange, logLabel(ampTicks, ampTickLabels)), 'Fourier Amplitude (g-s)', 51);
ampY.splitLine = { show: false };
ampY.axisLabel.customValues = ampTicks;
const ratioY = named(baseAxis(2, 'log', ratioRange, logLabel(ratioTicks, ratioTickLabels)), 'Fourier Amp. Ratio (surface/input)', 51);
ratioY.splitLine = { show: false };
ratioY.axisLabel.customValues = ratioTicks;

const periodX = named(baseAxis(0, 'log', periodRange, logLabel(periodTicks, periodTickLabels, true)), 'Period (s)', 30);
periodX.axisLabel.alignMaxLabel = 'right';
const ampX = baseAxis(1, 'log', freqRange, () => '');
const ratioX = named(baseAxis(2, 'log', freqRange, logLabel(freqTicks, freqTickLabels, true)), 'Frequency (Hz)', 30);
ratioX.axisLabel.alignMaxLabel = 'right';

const border = { show: true, borderColor: GRID, borderWidth: 1, backgroundColor: 'transparent' };
const myChart = echarts.init(document.getElementById('chart'), null, { renderer: 'canvas' });
myChart.setOption({
  animation: false,
  backgroundColor: 'transparent',
  grid: [
    Object.assign({ left: 397.5, top: 207, width: 681, height: 682 }, border),
    Object.assign({ left: 1196.5, top: 207, width: 671, height: 351.5 }, border),
    Object.assign({ left: 1196.5, top: 577.5, width: 671, height: 312 }, border)
  ],
  xAxis: [periodX, ampX, ratioX],
  yAxis: [saY, ampY, ratioY],
  series: [
    saSeries,
    ampSeries,
    curve('Fourier amplitude core', exp10(ampCoreFreqExp), exp10(ampCoreExp), 1),
    ratioSeries,
    curve('Amplitude ratio core', exp10(ratioCoreFreqExp), exp10(ratioCoreExp), 2),
    ticksOn('period minor', periodMinor.map(v => [v, saRange[0]]), 0, true),
    ticksOn('freq minor', freqMinor.map(v => [v, ratioRange[0]]), 2, true),
    ticksOn('sa minor', saMinor.map(v => [periodRange[0], v]), 0, false),
    ticksOn('amp minor', ampMinor.map(v => [freqRange[0], v]), 1, false),
    ticksOn('ratio minor', ratioMinor.map(v => [freqRange[0], v]), 2, false)
  ]
});
</script>
</body>
</html>
